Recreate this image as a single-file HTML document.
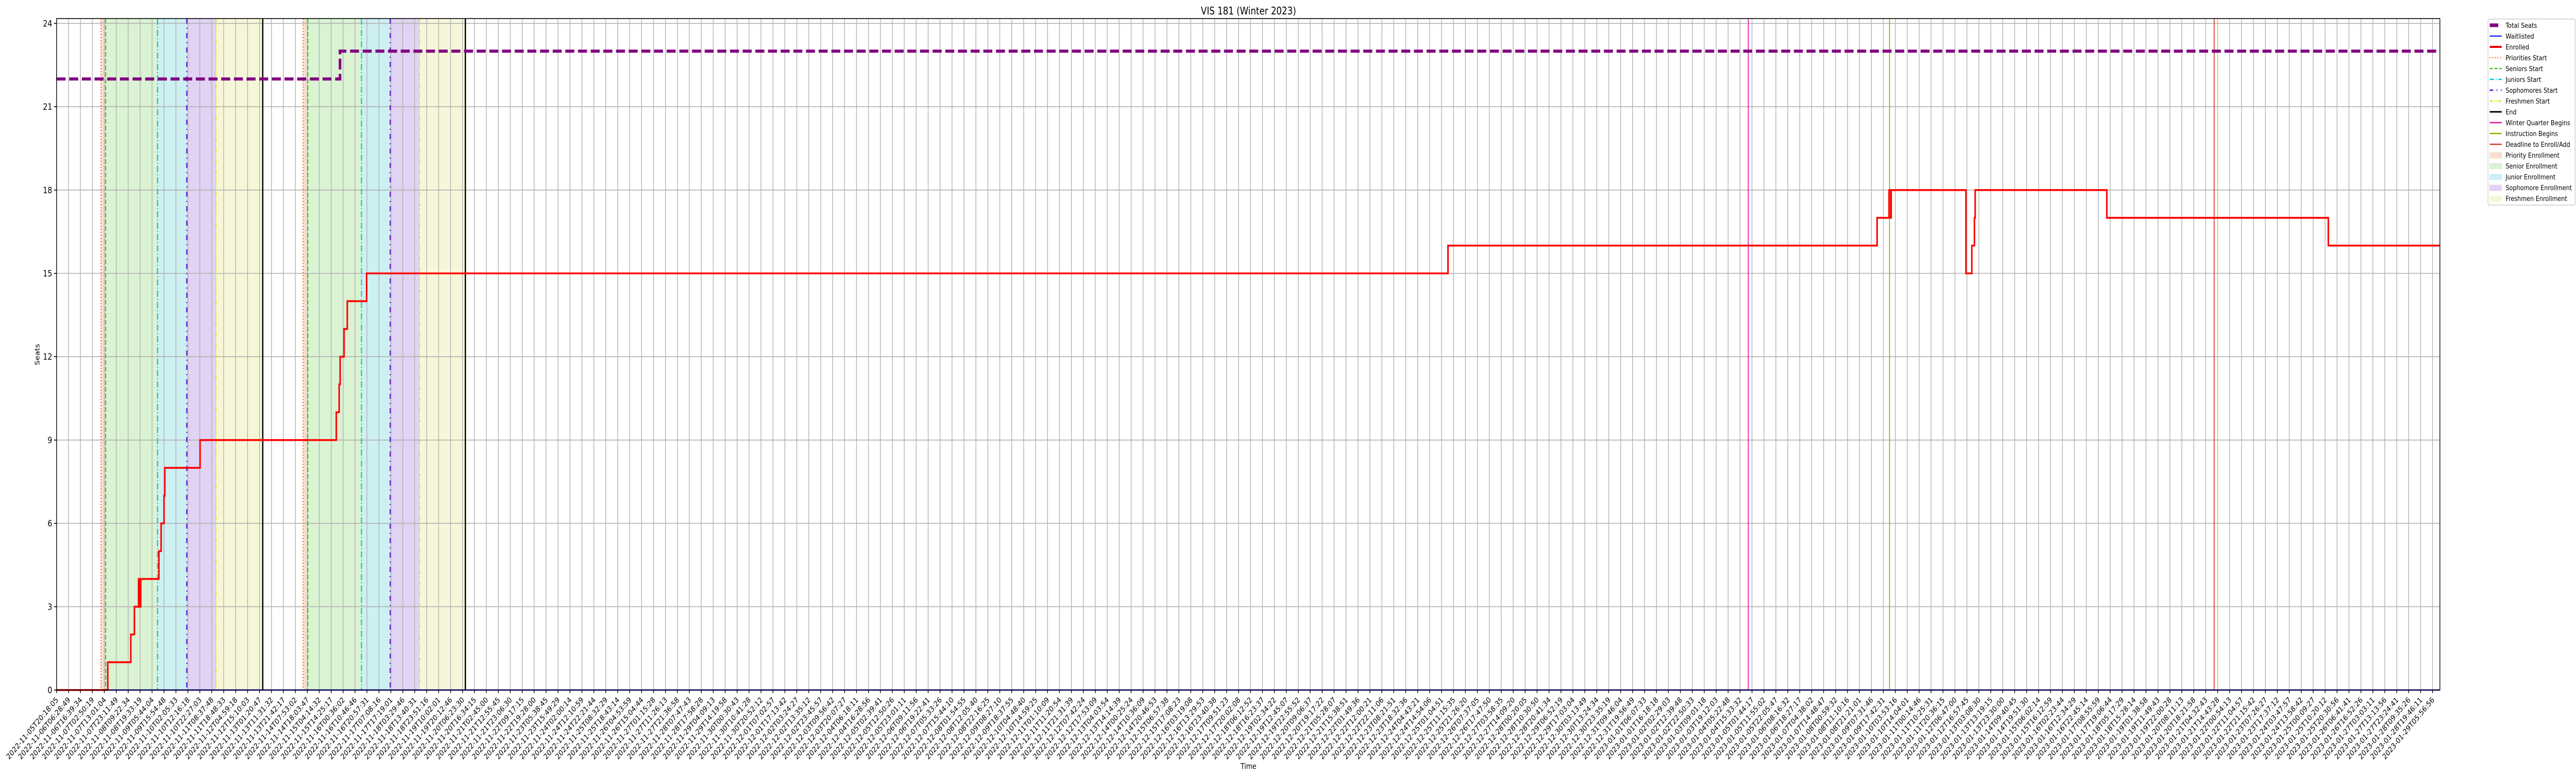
<!DOCTYPE html>
<html><head><meta charset="utf-8">
<style>
html,body{margin:0;padding:0;background:#fff;width:100%;height:100%;overflow:hidden;}
svg{display:block;font-family:"DejaVu Sans","Liberation Sans",sans-serif;overflow:hidden;width:100vw;height:100vh;}
</style></head>
<body>
<svg id="chart" viewBox="0 0 6000 1500" preserveAspectRatio="none" xmlns="http://www.w3.org/2000/svg">
<text x="2908" y="28" font-size="20" text-anchor="middle">VIS 181 (Winter 2023)</text>
<g id="bands"></g>
<g id="grid"></g>
<g id="vlines"></g>
<g id="series"></g>
<rect x="131.7" y="36" width="5551.3" height="1303" fill="none" stroke="#000" stroke-width="1.6"/>
<g id="yaxis"></g>
<g id="xaxis"></g>
<text x="0" y="0" font-size="15" text-anchor="middle" transform="translate(92,688) rotate(-90)">Seats</text>
<text x="2908" y="1492" font-size="15" text-anchor="middle">Time</text>
<g id="legend"></g>
</svg>
<script>
// ---- data (x in tick-index units) ----
const enrolledX = [0, 4.29, 6.22, 6.52, 6.87, 7.0, 7.05, 8.57, 8.76, 9.0, 9.07, 12.02, 23.43, 23.67, 23.75, 24.08, 24.35, 25.97, 116.54, 152.48, 153.48, 153.63, 153.66, 159.92, 160.41, 160.63, 160.69, 171.72, 190.27];
const enrolledY = [0, 1, 2, 3, 4, 3, 4, 5, 6, 7, 8, 9, 10, 11, 12, 13, 14, 15, 16, 17, 18, 17, 18, 15, 16, 17, 18, 17, 16];
const seatsX = [0, 23.74];
const seatsY = [22, 23];
const waitX = [0];
const waitY = [0];
const periodStarts = [3.72, 4.11, 8.46, 10.91, 13.35, 20.65, 21.04, 25.54, 27.95, 30.39];
const periodEnds = [4.11, 8.46, 10.91, 13.35, 17.27, 21.04, 25.54, 27.95, 30.39, 34.24];
const periodKinds = ["priority","senior","junior","sophomore","freshman","priority","senior","junior","sophomore","freshman"];
const endMarks = [17.27, 34.24];
const quarterBegins = [141.69];
const instructionBegins = [153.52];
const enrollDeadline = [180.71];
const yTicks = [0, 3, 6, 9, 12, 15, 18, 21, 24];
const tickCount = 200;
const firstTickLabel = "2022-11-05T20:18:05";
const lastTickLabel = "2023-01-29T05:56:56";

// ---- axes ----
const X0 = 131.7, STEP = 27.81, XR = 5683;
const Y0 = 1339, UNIT = 53.9, YT = 36;
function xs(u){ return X0 + u*STEP; }
function ys(v){ return Y0 - v*UNIT; }
const XMAX = (XR - X0)/STEP;

const NS = "http://www.w3.org/2000/svg";
function mk(tag, attrs, parent){
  const e = document.createElementNS(NS, tag);
  for (const k in attrs) e.setAttribute(k, attrs[k]);
  parent.appendChild(e);
  return e;
}
const bandColors = {priority:"#f8ddd0", senior:"#daf3d3", junior:"#cdf0f2", sophomore:"#e0d3f3", freshman:"#f6f7d8"};
const startStyles = {
  priority:{c:"#ee6a2c", d:"2,4", w:2.5},
  senior:{c:"#33cc11", d:"9,4", w:2.5},
  junior:{c:"#00c8d0", d:"12,4,2,4", w:2.5},
  sophomore:{c:"#6a1fd6", d:"10,8,2,8", w:3},
  freshman:{c:"#e0e020", d:"8,3,2,3,2,3", w:2.5}
};

const bands = document.getElementById('bands');
periodStarts.forEach((s,i)=>{
  const r = mk('rect',{x:xs(s), y:YT, width:xs(periodEnds[i])-xs(s), height:Y0-YT, fill:bandColors[periodKinds[i]]}, bands);
  
  
});

const grid = document.getElementById('grid');
for (let i=0;i<tickCount;i++){
  const l = mk('line',{x1:xs(i), x2:xs(i), y1:YT, y2:Y0, stroke:"#b0b0b0", 'stroke-width':1.6}, grid);
  
  
}
yTicks.forEach(v=>{
  const l = mk('line',{x1:X0, x2:XR, y1:ys(v), y2:ys(v), stroke:"#b0b0b0", 'stroke-width':1.6}, grid);
  
  
});

const vl = document.getElementById('vlines');
periodStarts.forEach((s,i)=>{
  const st = startStyles[periodKinds[i]];
  const l = mk('line',{x1:xs(s), x2:xs(s), y1:YT, y2:Y0, stroke:st.c, 'stroke-width':st.w, 'stroke-dasharray':st.d}, vl);
  
  
});
function solidV(arr, color, w, name){
  arr.forEach(u=>{
    const l = mk('line',{x1:xs(u), x2:xs(u), y1:YT, y2:Y0, stroke:color, 'stroke-width':w}, vl);
    
    
  });
}
solidV(endMarks, "#000", 3, 'end-line');
solidV(quarterBegins, "#e010a0", 2, 'winter-quarter-begins-line');
solidV(instructionBegins, "#88b000", 2, 'instruction-begins-line');
solidV(enrollDeadline, "#c83c1c", 2, 'deadline-line');

function stepPath(xa, ya){
  let d = "M" + xs(xa[0]) + "," + ys(ya[0]);
  for (let i=1;i<xa.length;i++){
    d += " H" + xs(xa[i]) + " V" + ys(ya[i]);
  }
  d += " H" + xs(XMAX);
  return d;
}
const ser = document.getElementById('series');
const pw = mk('path',{d:stepPath(waitX, waitY), fill:"none", stroke:"#0000ff", 'stroke-width':2.5}, ser);


const pe = mk('path',{d:stepPath(enrolledX, enrolledY), fill:"none", stroke:"#ff0000", 'stroke-width':3.6}, ser);


const ps = mk('path',{d:stepPath(seatsX, seatsY), fill:"none", stroke:"#800080", 'stroke-width':6, 'stroke-dasharray':"21,8.5"}, ser);



const ya = document.getElementById('yaxis');
yTicks.forEach(v=>{
  const t = mk('line',{x1:X0-6, x2:X0, y1:ys(v), y2:ys(v), stroke:"#000", 'stroke-width':1.6}, ya);
  
  
  const tx = mk('text',{x:X0-10, y:ys(v)+6, 'font-size':17, 'text-anchor':'end'}, ya);
  tx.textContent = String(v);
  
  
});

function pad(n){ return String(n).padStart(2,'0'); }
const t0 = Date.parse(firstTickLabel + "Z"), t1 = Date.parse(lastTickLabel + "Z");
const xa = document.getElementById('xaxis');
for (let i=0;i<tickCount;i++){
  const x = xs(i);
  const t = mk('line',{x1:x, x2:x, y1:Y0, y2:Y0+6, stroke:"#000", 'stroke-width':1.6}, xa);
  
  
  const d = new Date(t0 + (t1-t0)*i/(tickCount-1));
  const s = d.getUTCFullYear()+"-"+pad(d.getUTCMonth()+1)+"-"+pad(d.getUTCDate())+"T"+pad(d.getUTCHours())+":"+pad(d.getUTCMinutes())+":"+pad(d.getUTCSeconds());
  const lbl = i===0 ? firstTickLabel : (i===tickCount-1 ? lastTickLabel : s);
  const ty = Y0 + 20;
  const tx = mk('text',{x:x+5, y:ty, 'font-size':15, 'text-anchor':'end', transform:"rotate(-45 "+(x+5)+" "+ty+")"}, xa);
  tx.textContent = lbl;
  
  
}

// ---- legend ----
const lg = document.getElementById('legend');
const lb = mk('rect',{x:5795, y:37, width:203, height:361, rx:3, fill:"#fff", 'fill-opacity':0.8, stroke:"#cccccc", 'stroke-width':1.5}, lg);


const legendLabels = ["Total Seats","Waitlisted","Enrolled","Priorities Start","Seniors Start","Juniors Start","Sophomores Start","Freshmen Start","End","Winter Quarter Begins","Instruction Begins","Deadline to Enroll/Add","Priority Enrollment","Senior Enrollment","Junior Enrollment","Sophomore Enrollment","Freshmen Enrollment"];
const legendStyles = [
  {c:"#800080", w:7, d:"20,40"},{c:"#0000ff", w:2},{c:"#ff0000", w:4},
  {c:"#ee6a2c", w:2.5, d:"2,4"},{c:"#33cc11", w:2.5, d:"7,4"},{c:"#00c8d0", w:2.5, d:"10,4,2,4"},
  {c:"#6a1fd6", w:3, d:"8,8,2,8"},{c:"#e0e020", w:2.5, d:"7,3,2,3,2,3"},{c:"#000", w:3},
  {c:"#e010a0", w:2.5},{c:"#88b000", w:2.5},{c:"#c83c1c", w:2.5},
  {f:"#f8ddd0"},{f:"#daf3d3"},{f:"#cdf0f2"},{f:"#e0d3f3"},{f:"#f6f7d8"}
];
legendLabels.forEach((name,i)=>{
  const cy = 49 + i*21;
  const st = legendStyles[i];
  let h;
  if (st.f){
    h = mk('rect',{x:5799, y:cy-5, width:28, height:11, fill:st.f, stroke:st.f}, lg);
  } else {
    const a = {x1:5799, x2:5827, y1:cy, y2:cy, stroke:st.c, 'stroke-width':st.w};
    if (st.d) a['stroke-dasharray'] = st.d;
    h = mk('line', a, lg);
  }
  
  
  const t = mk('text',{x:5836, y:cy+5, 'font-size':13.5}, lg);
  t.textContent = name;
  
  
});
</script>
</body></html>
